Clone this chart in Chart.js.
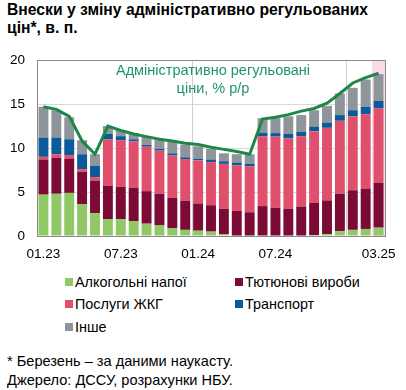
<!DOCTYPE html>
<html lang="uk">
<head>
<meta charset="UTF-8">
<script src="https://cdn.jsdelivr.net/npm/chart.js"></script>
<title>Внески у зміну адміністративно регульованих цін</title>
<style>
  body{
    margin: 0;
    width: 406px;
    height: 390px;
    position: relative;
    font-family: "Liberation Sans", Arial, sans-serif;
    color: #000;
    background: #fff;
    overflow: hidden;
  }
  .title{
    position: absolute;
    left: 7px;
    top: 1px;
    font-weight: bold;
    font-size: 15.7px;
    line-height: 18px;
  }
  .box{
    position: absolute;
    left: 0;
    top: 40px;
    width: 406px;
    height: 225px;
  }
  .note{
    position: absolute;
    left: 0;
    width: 426px;
    text-align: center;
    color: #1f9467;
    font-size: 14.5px;
    line-height: 18px;
    top: 61px;
  }
  .legend{
    position: absolute;
    font-size: 14.4px;
  }
  .legend span{
    display: inline-block;
    width: 8px;
    height: 8px;
    margin-right: 2px;
    vertical-align: 1px;
  }
  .foot{
    position: absolute;
    left: 7px;
    top: 352px;
    font-size: 14.6px;
    line-height: 18.5px;
  }
</style>
</head>
<body>
  <div class="title">Внески у зміну адміністративно регульованих<br>цін*, в. п.</div>
  <div class="box"><canvas id="chart"></canvas></div>
  <div class="note">Адміністративно регульовані<br>ціни, % р/р</div>

  <div class="legend" style="left:65px;top:274px"><span style="background:#8fc865"></span>Алкогольні напої</div>
  <div class="legend" style="left:235px;top:274px"><span style="background:#7b0a35"></span>Тютюнові вироби</div>
  <div class="legend" style="left:65px;top:296px"><span style="background:#e0506c"></span>Послуги ЖКГ</div>
  <div class="legend" style="left:235px;top:296px"><span style="background:#0b5b9a"></span>Транспорт</div>
  <div class="legend" style="left:65px;top:319px"><span style="background:#8e959b"></span>Інше</div>

  <div class="foot">* Березень – за даними наукасту.<br>Джерело: ДССУ, розрахунки НБУ.</div>

<script>
const months = ['01.23','02.23','03.23','04.23','05.23','06.23','07.23','08.23','09.23','10.23','11.23','12.23',
                '01.24','02.24','03.24','04.24','05.24','06.24','07.24','08.24','09.24','10.24','11.24','12.24',
                '01.25','02.25','03.25'];
const shownTicks = ['01.23','07.23','01.24','07.24','03.25'];
const yearStarts = ['01.24','01.25'];

const alcohol   = [4.7, 4.8, 4.9, 3.6, 2.6, 1.9, 1.9, 1.7, 1.4, 1.2, 0.9, 0.7, 0.6, 0.5, 0.2, 0.05, 0, 0, 0, 0, 0, 0.1, 0.2, 0.55, 0.7, 0.8, 0.95];
const tobacco   = [4.0, 4.1, 3.9, 3.7, 3.7, 3.8, 3.7, 3.8, 3.7, 3.6, 3.45, 3.3, 3.1, 3.0, 2.9, 2.8, 2.7, 3.4, 3.2, 3.1, 3.35, 3.65, 3.85, 4.25, 4.5, 4.6, 5.1];
const utilities = [0.3, 0.4, 0.4, 0.3, 0.4, 5.3, 5.3, 5.25, 5.05, 4.9, 4.8, 4.75, 4.9, 4.9, 5.1, 5.2, 5.2, 7.95, 8.1, 8.0, 8.0, 8.15, 8.25, 8.3, 8.4, 8.45, 8.45];
const transport = [2.2, 1.9, 1.8, 1.7, 1.3, 0.6, 0.45, 0.25, 0.2, 0.2, 0.25, 0.2, 0.2, 0.3, 0.3, 0.3, 0.3, 0.4, 0.4, 0.5, 0.5, 0.55, 0.6, 0.65, 0.7, 0.85, 0.85];
const other     = [3.5, 3.1, 2.5, 1.6, 1.3, 0.9, 0.7, 0.7, 0.95, 1.0, 1.3, 1.45, 1.4, 1.2, 0.9, 0.95, 1.1, 1.65, 1.7, 2.0, 1.9, 1.85, 1.9, 2.45, 2.55, 3.1, 3.05];
const adminYoY  = [14.7, 14.4, 13.6, 10.8, 9.3, 12.5, 12.0, 11.6, 11.3, 11.0, 10.8, 10.55, 10.4, 10.1, 9.85, 9.6, 9.3, 13.3, 13.5, 13.8, 14.2, 14.5, 15.1, 16.2, 17.4, 18.0, 18.5];
const yTicks = [0, 5, 10, 15, 20];

// pink shade behind the nowcast month, year separators, frame round the plot
const extras = {
  id: 'extras',
  beforeDatasetsDraw(chart) {
    const {ctx, chartArea: a, scales: {x}} = chart;
    const half = (x.getPixelForValue(1) - x.getPixelForValue(0)) / 2;
    const left = x.getPixelForValue(months.length - 1) - half;
    ctx.save();
    ctx.fillStyle = '#fadbe6';
    ctx.fillRect(left, a.top, a.right - left, a.bottom - a.top);
    ctx.strokeStyle = '#cfcfcf';
    ctx.lineWidth = 1;
    yearStarts.forEach(m => {
      const px = Math.round(x.getPixelForValue(months.indexOf(m)) - half) + 0.5;
      ctx.beginPath();
      ctx.moveTo(px, a.top);
      ctx.lineTo(px, a.bottom);
      ctx.stroke();
    });
    ctx.restore();
  },
  afterDatasetsDraw(chart) {
    const {ctx, chartArea: a} = chart;
    ctx.save();
    ctx.strokeStyle = '#8a8a8a';
    ctx.lineWidth = 1;
    ctx.strokeRect(Math.round(a.left) + 0.5, Math.round(a.top) + 0.5, Math.round(a.right - a.left), Math.round(a.bottom - a.top));
    ctx.restore();
  }
};

function bar(label, data, color) {
  return {type: 'bar', label, data, backgroundColor: color, stack: 's', order: 1,
          barPercentage: 0.77, categoryPercentage: 1};
}

new Chart(document.getElementById('chart'), {
  data: {
    labels: months,
    datasets: [
      {type: 'line', label: 'Адміністративно регульовані ціни, % р/р', data: adminYoY,
       borderColor: '#1d8748', borderWidth: 3, pointRadius: 0, tension: 0, order: 0},
      bar('Алкогольні напої', alcohol, '#8fc865'),
      bar('Тютюнові вироби', tobacco, '#7b0a35'),
      bar('Послуги ЖКГ', utilities, '#e0506c'),
      bar('Транспорт', transport, '#0b5b9a'),
      bar('Інше', other, '#8e959b')
    ]
  },
  options: {
    responsive: true,
    maintainAspectRatio: false,
    animation: false,
    layout: {padding: {top: 8, right: 21, bottom: 0, left: 0}},
    plugins: {legend: {display: false}, tooltip: {enabled: false}},
    scales: {
      x: {
        stacked: true,
        grid: {display: false, drawTicks: false},
        border: {display: false},
        afterFit: s => { s.height = 29; },
        ticks: {
          autoSkip: false, maxRotation: 0, padding: 10, color: '#000',
          font: {family: '"Liberation Sans", Arial', size: 13.5},
          callback: (v, i) => shownTicks.includes(months[i]) ? months[i] : ''
        }
      },
      y: {
        stacked: true,
        min: 0, max: 20,
        afterBuildTicks: s => { s.ticks = yTicks.map(v => ({value: v})); },
        grid: {color: '#d9d9d9', drawTicks: false},
        border: {display: false},
        afterFit: s => { s.width = 37; },
        ticks: {padding: 12, color: '#000', font: {family: '"Liberation Sans", Arial', size: 13.5}}
      }
    }
  },
  plugins: [extras]
});
</script>
</body>
</html>
